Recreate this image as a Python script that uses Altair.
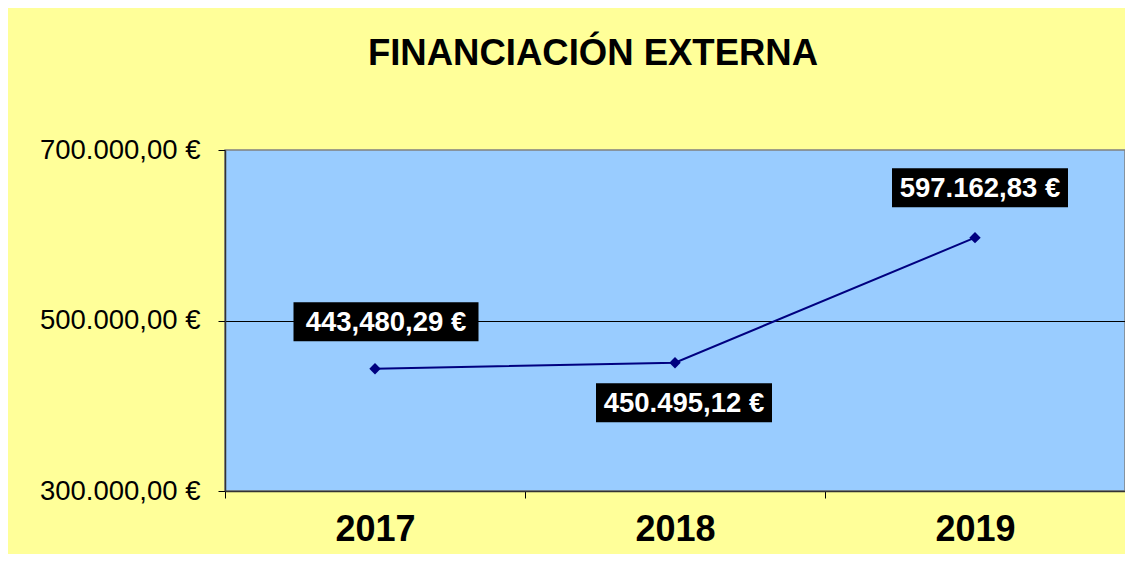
import altair as alt
import pandas as pd

# ---- data ----
years = ["2017", "2018", "2019"]
values = [443480.29, 450495.12, 597162.83]
labels = ["443,480,29  €", "450.495,12 €", "597.162,83 €"]
y_ticks = [300000, 500000, 700000]
y_tick_labels = ["300.000,00 €", "500.000,00 €", "700.000,00 €"]
title_text = "FINANCIACIÓN  EXTERNA"

df = pd.DataFrame({"year": years, "value": values, "label": labels})

# ---- style ----
FONT = "Liberation Sans"
NAVY = "#000080"
# label box (width, height) and offset of box centre from point (px)
box_style = {
    "2017": dict(w=185, h=39, dx=11, dy=-47),
    "2018": dict(w=176, h=39, dx=9, dy=40),
    "2019": dict(w=176, h=39, dx=5, dy=-50),
}

label_expr = " : ".join(
    f"datum.value == {v} ? '{l}'" for v, l in zip(y_ticks, y_tick_labels)
) + " : ''"

x_enc = alt.X(
    "year:O",
    sort=years,
    scale=alt.Scale(type="band", paddingInner=0, paddingOuter=0),
    axis=alt.Axis(
        title=None,
        labelAngle=0,
        labelFont=FONT,
        labelFontSize=36,
        labelFontWeight="bold",
        labelColor="#000000",
        labelBaseline="alphabetic",
        labelPadding=42,
        tickBand="extent",
        tickSize=7,
        tickColor="#000000",
        domainColor="#333333",
        domainWidth=1.5,
    ),
)
y_enc = alt.Y(
    "value:Q",
    scale=alt.Scale(domain=[300000, 700000], nice=False, zero=False),
    axis=alt.Axis(
        title=None,
        values=y_ticks,
        labelExpr=label_expr,
        labelFont=FONT,
        labelFontSize=27.5,
        labelColor="#000000",
        labelPadding=18,
        tickSize=7,
        tickColor="#000000",
        domainColor="#333333",
        domainWidth=1.5,
        grid=True,
        gridColor={"condition": {"test": "datum.value === 500000", "value": "#000000"},
                   "value": "transparent"},
        gridWidth=1,
    ),
)

base = alt.Chart(df)
line = base.mark_line(color=NAVY, strokeWidth=2).encode(x=x_enc, y=y_enc)
pts = base.mark_point(shape="diamond", filled=True, color=NAVY, opacity=1, size=130).encode(
    x=x_enc, y=y_enc
)

layers = [line, pts]
for yr in years:
    s = box_style[yr]
    r = s["h"] / s["w"]
    path = f"M-1,-{r:.4f}L1,-{r:.4f}L1,{r:.4f}L-1,{r:.4f}Z"
    sub = base.transform_filter(alt.datum.year == yr)
    box = sub.mark_point(
        shape=path, filled=True, color="#000000", opacity=1, size=s["w"] ** 2,
        xOffset=s["dx"], yOffset=s["dy"], strokeWidth=0,
    ).encode(x=x_enc, y=y_enc)
    txt = sub.mark_text(
        font=FONT, fontSize=27.5, fontWeight="bold", color="#FFFFFF",
        align="center", baseline="middle", dx=s["dx"], dy=s["dy"] + 1,
    ).encode(x=x_enc, y=y_enc, text="label:N")
    layers += [box, txt]

chart = (
    alt.layer(*layers)
    .properties(
        width=900,
        height=341,
        title=alt.TitleParams(
            title_text,
            font=FONT,
            fontSize=36.5,
            fontWeight="bold",
            color="#000000",
            anchor="middle",
            dx=-82,
            baseline="alphabetic",
            offset=35,
        ),
        padding={"left": 217, "top": 142, "right": 0, "bottom": 63},
        autosize=alt.AutoSizeParams(type="none"),
        background="#FFFF99",
    )
    .configure_view(fill="#99CCFF", stroke="#808080", strokeWidth=1.5)
)

chart.save("out.html", embed_options={"renderer": "svg", "actions": False})
